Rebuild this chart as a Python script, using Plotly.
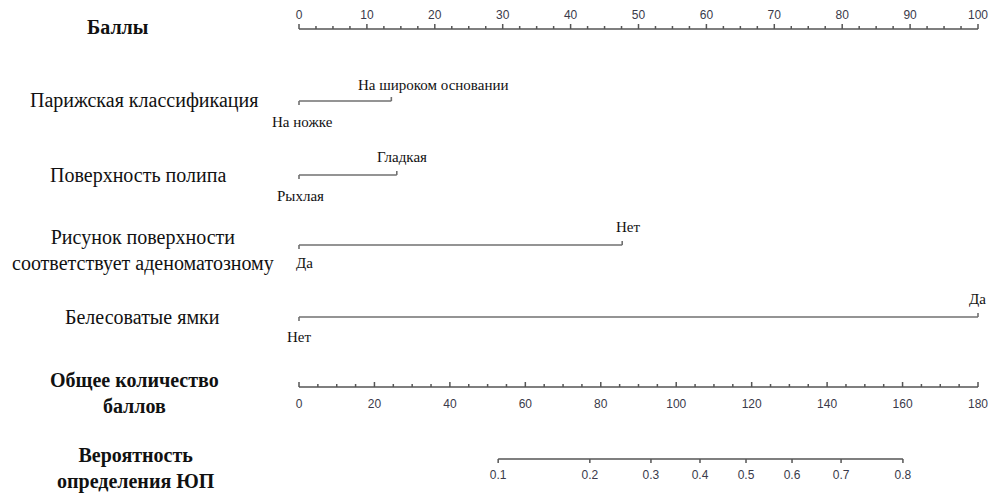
import numpy as np
import plotly.graph_objects as go

# ---------------- data ----------------
points_major = list(range(0, 101, 10))          # "Баллы" scale
points_minor_step = 2.5
total_major = list(range(0, 181, 20))           # "Общее количество баллов"
total_minor_step = 5
total_max = 180

paris_levels = ["На ножке", "На широком основании"]
paris_points = [0, 13.6]
surface_levels = ["Рыхлая", "Гладкая"]
surface_points = [0, 14.4]
pattern_levels = ["Да", "Нет"]
pattern_points = [0, 47.6]
pits_levels = ["Нет", "Да"]
pits_points = [0, 100]

prob_labels = ["0.1", "0.2", "0.3", "0.4", "0.5", "0.6", "0.7", "0.8"]
prob_total_points = [52.8, 77.1, 93.3, 106.3, 118.5, 130.7, 143.7, 160.1]

# ---------------- layout constants ----------------
W, H = 992, 493
PX0, PX100 = 299, 978                 # pixel positions of 0 and 100 points
scale = (PX100 - PX0) / 100.0
x_range = [-PX0 / scale, (W - PX0) / scale]

LINE_COL = "#555555"
FACTOR_COL = "#707070"
TICK_FONT = dict(family="Liberation Sans, Arial", size=12, color="#3a3a4a")
SERIF = "Liberation Serif, Times New Roman"

ROW_POINTS = 29
ROW_PARIS = 101
ROW_SURF = 175
ROW_PATTERN = 245
ROW_PITS = 317
ROW_TOTAL = 387
ROW_PROB = 459


def tot2pts(t):
    return t * 100.0 / total_max


fig = go.Figure()


def add_lines(xs, ys, color=LINE_COL, width=1.5):
    fig.add_trace(go.Scatter(x=xs, y=ys, mode="lines",
                             line=dict(color=color, width=width),
                             hoverinfo="skip", showlegend=False))


def add_text(xs, ys, texts, font):
    fig.add_trace(go.Scatter(x=xs, y=ys, mode="text", text=texts,
                             textfont=font, textposition="middle center",
                             hoverinfo="skip", showlegend=False,
                             cliponaxis=False))


# ---- "Баллы" scale ----
xs, ys = [0, 100, None], [ROW_POINTS, ROW_POINTS, None]
for v in np.arange(0, 100.001, points_minor_step):
    ln = 5 if abs(v % 10) < 1e-9 else 3
    xs += [v, v, None]
    ys += [ROW_POINTS, ROW_POINTS - ln, None]
add_lines(xs, ys)
add_text(points_major, [ROW_POINTS - 13] * len(points_major),
         [str(v) for v in points_major], TICK_FONT)

# ---- factor rows ----
factor_rows = [
    (paris_levels, paris_points, ROW_PARIS, [(3, -21), (41.5, 16)]),
    (surface_levels, surface_points, ROW_SURF, [(1, -21), (5.5, 18)]),
    (pattern_levels, pattern_points, ROW_PATTERN, [(5, -18), (6, 18)]),
    (pits_levels, pits_points, ROW_PITS, [(0, -20), (-1, 18)]),
]
for levels, pts, row, offs in factor_rows:
    xs = [pts[0], pts[1], None, pts[0], pts[0], None, pts[1], pts[1]]
    ys = [row, row, None, row, row + 4, None, row, row - 4]
    add_lines(xs, ys, color=FACTOR_COL, width=1.6)
    for lev, p, (dx, dy) in zip(levels, pts, offs):
        fig.add_annotation(x=p, y=row, xref="x", yref="y", text=lev,
                           showarrow=False, xshift=dx, yshift=dy,
                           xanchor="center", yanchor="middle",
                           font=dict(family=SERIF, size=15, color="#111111"))

# ---- total points scale ----
xs, ys = [tot2pts(0), tot2pts(total_max), None], [ROW_TOTAL, ROW_TOTAL, None]
for v in np.arange(0, total_max + 0.001, total_minor_step):
    ln = 5 if abs(v % 20) < 1e-9 else 3
    xs += [tot2pts(v), tot2pts(v), None]
    ys += [ROW_TOTAL, ROW_TOTAL - ln, None]
add_lines(xs, ys)
add_text([tot2pts(v) for v in total_major], [ROW_TOTAL + 18] * len(total_major),
         [str(v) for v in total_major], TICK_FONT)

# ---- probability scale ----
pp = [tot2pts(t) for t in prob_total_points]
xs, ys = [pp[0], pp[-1], None], [ROW_PROB, ROW_PROB, None]
for p in pp:
    xs += [p, p, None]
    ys += [ROW_PROB, ROW_PROB + 4, None]
add_lines(xs, ys)
add_text(pp, [ROW_PROB + 17] * len(pp), prob_labels, TICK_FONT)

# ---- row titles ----
titles = [
    ("<b>Баллы</b>", 118, 27),
    ("Парижская классификация", 144, 100),
    ("Поверхность полипа", 138, 175),
    ("Рисунок поверхности<br>соответствует аденоматозному", 143, 250),
    ("Белесоватые ямки", 142, 317),
    ("<b>Общее количество<br>баллов</b>", 134, 393),
    ("<b>Вероятность<br>определения ЮП</b>", 136, 468),
]
for txt, cx, cy in titles:
    fig.add_annotation(x=cx / W, y=cy, xref="paper", yref="y", text=txt,
                       showarrow=False, align="center",
                       xanchor="center", yanchor="middle",
                       font=dict(family=SERIF, size=20, color="#111111"))

fig.update_layout(
    width=W, height=H,
    margin=dict(l=0, r=0, t=0, b=0),
    paper_bgcolor="white", plot_bgcolor="white",
    xaxis=dict(range=x_range, visible=False, fixedrange=True),
    yaxis=dict(range=[H, 0], visible=False, fixedrange=True),
    showlegend=False,
)

fig.write_html(
    "out.html",
    config={"displayModeBar": False, "staticPlot": True},
    post_script="document.body.style.margin='0';document.body.style.overflow='hidden';",
)
